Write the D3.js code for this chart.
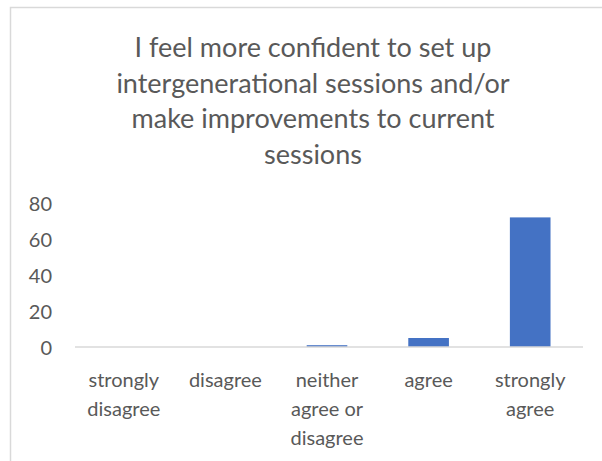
<!DOCTYPE html>
<html lang="en">
<head>
<meta charset="UTF-8">
<title>confidence</title>
<script src="https://cdn.jsdelivr.net/npm/d3@7"></script>
<style>
body { margin:0; background:#fff; }
text { font-family: "Lato", "Open Sans", sans-serif; fill:#595959; }
.axis text { font-size:20px; }
.catlabel { font-size:23px; }
.title { font-size:27px; }
</style>
</head>
<body>
<div id="chart"></div>
<script>
// data
var categories = ["strongly disagree", "disagree", "neither agree or disagree", "agree", "strongly agree"];
var catLines = [["strongly", "disagree"], ["disagree"], ["neither", "agree or", "disagree"], ["agree"], ["strongly", "agree"]];
var values = [0, 0, 1, 5, 72];
var yTicks = [0, 20, 40, 60, 80];
var titleLines = ["I feel more confident to set up", "intergenerational sessions and/or", "make improvements to current", "sessions"];

var width = 602, height = 461;
var plotLeft = 75, plotRight = 583, plotTop = 203, plotBottom = 347;

var svg = d3.select("#chart").append("svg")
  .attr("width", width).attr("height", height);

// frame
svg.append("rect")
  .attr("x", 10.5).attr("y", 7.5)
  .attr("width", 700).attr("height", 600)
  .attr("fill", "#fff").attr("stroke", "#d9d9d9").attr("stroke-width", 1.5);

// title
svg.append("g").selectAll("text")
  .data(titleLines).enter().append("text")
  .attr("class", "title")
  .attr("x", 313)
  .attr("y", function(d, i){ return 57 + i*35.5; })
  .attr("text-anchor", "middle")
  .text(function(d){ return d; });

var x = d3.scaleBand().domain(categories).range([plotLeft - 2, plotRight - 2]).paddingInner(0.6).paddingOuter(0.3);
var y = d3.scaleLinear().domain([0, 80]).range([plotBottom, plotTop]);

// y axis
var gy = svg.append("g").attr("class", "axis")
  .attr("transform", "translate(" + plotLeft + ",0)")
  .call(d3.axisLeft(y).tickValues(yTicks).tickSize(0).tickPadding(23));
gy.select(".domain").remove();
gy.selectAll("text").attr("dy", "0.35em").attr("fill", "#595959");

// bars
svg.selectAll("rect.bar")
  .data(values).enter().append("rect")
  .attr("class", "bar")
  .attr("x", function(d, i){ return x(categories[i]); })
  .attr("y", function(d){ return y(d); })
  .attr("width", x.bandwidth())
  .attr("height", function(d){ return plotBottom - y(d); })
  .attr("fill", "#4472c4");

// x axis line
svg.append("line")
  .attr("x1", plotLeft).attr("x2", plotRight)
  .attr("y1", plotBottom).attr("y2", plotBottom)
  .attr("stroke", "#d9d9d9").attr("stroke-width", 1.5);

var gx = svg.append("g").attr("class", "axis")
  .attr("transform", "translate(0," + plotBottom + ")")
  .call(d3.axisBottom(x).tickSize(0).tickSizeOuter(0).tickFormat(""));
gx.select(".domain").remove();

gx.selectAll(".tick").each(function(d, i){
  var t = d3.select(this).append("text")
    .attr("class", "catlabel")
    .attr("text-anchor", "middle")
    .attr("fill", "#595959");
  catLines[i].forEach(function(s, j){
    t.append("tspan").attr("x", 0).attr("y", 40 + j*29).text(s);
  });
});
</script>
</body>
</html>
